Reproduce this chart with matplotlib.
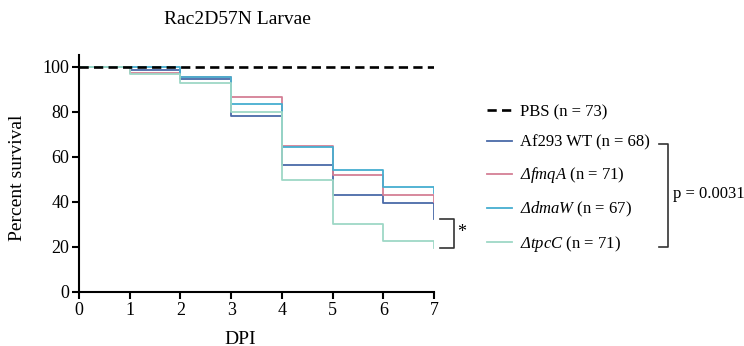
import matplotlib
matplotlib.use("Agg")
import matplotlib.pyplot as plt
from matplotlib.lines import Line2D

plt.rcParams['font.family'] = ['Liberation Serif', 'DejaVu Serif']
plt.rcParams['mathtext.fontset'] = 'custom'
plt.rcParams['mathtext.rm'] = 'Liberation Serif:italic'
plt.rcParams['mathtext.it'] = 'Liberation Serif:italic'

# ---- data ----
days = [0, 1, 2, 3, 4, 5, 6, 7]
pbs = [100, 100, 100, 100, 100, 100, 100, 100]
wt = [100, 98.5, 94.8, 78.1, 56.3, 43.1, 39.6, 32.4]
fmqA = [100, 97.5, 95.6, 86.7, 64.9, 51.9, 43.1, 40.0]
dmaW = [100, 100, 95.5, 83.7, 64.4, 54.1, 46.8, 44.0]
tpcC = [100, 97.0, 92.9, 80.0, 49.8, 30.0, 22.5, 19.7]

labels = ['PBS (n = 73)', 'Af293 WT (n = 68)', r'$\mathit{ΔfmqA}$ (n = 71)',
          r'$\mathit{ΔdmaW}$ (n = 67)', r'$\mathit{ΔtpcC}$ (n = 71)']
colors = ['#000000', '#4a6aa8', '#d47f95', '#45aed0', '#9ed8c6']
xticks = [0, 1, 2, 3, 4, 5, 6, 7]
yticks = [0, 20, 40, 60, 80, 100]
pval = 'p = 0.0031'

W, H = 744, 346
fig = plt.figure(figsize=(W / 100, H / 100), dpi=100)
ax = fig.add_axes([79 / W, 1 - 292 / H, (434 - 79) / W, (292 - 55) / H])

series = [wt, fmqA, dmaW, tpcC]
handles = []
for s, c in zip(series, colors[1:]):
    l, = ax.plot(days, s, drawstyle='steps-post', color=c, lw=1.3, zorder=2)
    handles.append(l)
lp, = ax.plot(days, pbs, color='black', lw=1.9, ls=(0, (3.5, 2.0)), zorder=3)
handles = [lp] + handles

ax.set_xlim(0, 7)
ax.set_ylim(0, 105.3)
ax.set_xticks(xticks)
ax.set_yticks(yticks)
for sp in ['top', 'right']:
    ax.spines[sp].set_visible(False)
for sp in ['left', 'bottom']:
    ax.spines[sp].set_linewidth(1.5)
ax.tick_params(axis='both', direction='out', length=5, width=1.5, labelsize=13, pad=2)

leg = ax.legend(handles, labels, loc='center left',
                bbox_to_anchor=(487 / W, 1 - 179 / H), bbox_transform=fig.transFigure,
                frameon=False, fontsize=12, handlelength=1.5, handletextpad=0.5,
                labelspacing=0.88, borderpad=0, borderaxespad=0)

# significance bracket between WT and tpcC
ax.plot([7.12, 7.39, 7.39, 7.12], [wt[-1], wt[-1], tpcC[-1], tpcC[-1]],
        color='#333333', lw=1.2, clip_on=False)
ax.text(7.54, (wt[-1] + tpcC[-1]) / 2 + 0.5, '*', fontsize=13, ha='center', va='center')

# overall p bracket (figure coords)
fx = lambda px: px / W
fy = lambda py: 1 - py / H
fig.add_artist(Line2D([fx(659), fx(668), fx(668), fx(659)],
                      [fy(143.5), fy(143.5), fy(246.5), fy(246.5)],
                      color='#333333', lw=1.2, transform=fig.transFigure))
fig.text(fx(673), fy(194), pval, fontsize=12, ha='left', va='center')

fig.text(fx(237), fy(20), 'Rac2D57N Larvae', fontsize=14, ha='center', va='center')
fig.text(fx(240), fy(339), 'DPI', fontsize=14, ha='center', va='center')
fig.text(fx(18), fy(178), 'Percent survival', fontsize=14, ha='center', va='center', rotation=90)

fig.savefig('out.png', dpi=100)
